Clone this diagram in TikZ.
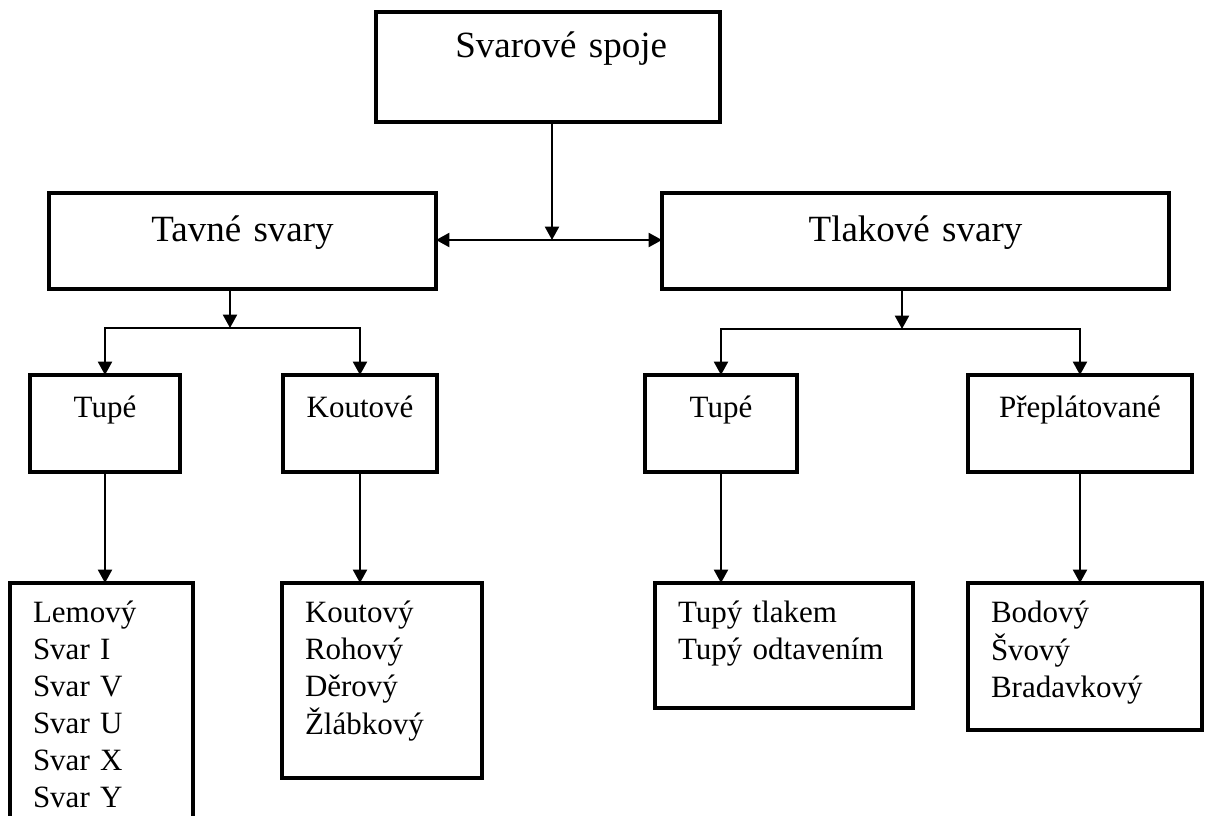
\documentclass[tikz,border=0pt]{standalone}
\usepackage{fontspec}
\setmainfont{Liberation Serif}
\usetikzlibrary{arrows.meta,calc}

\begin{document}
\begin{tikzpicture}[x=0.75pt, y=-0.75pt,
  >={Triangle[length=10pt,width=10.5pt]},
  box/.style={draw, line width=2.6pt, anchor=north west, inner sep=0pt, outer sep=0pt, align=center},
  big/.style={font=\fontsize{27.75}{33}\selectfont, text height=36.75pt, text depth=35.25pt},
  mid/.style={font=\fontsize{23.25}{27.75}\selectfont, text height=32.25pt, text depth=40.5pt},
  list/.style={box, align=left, inner xsep=17.25pt, text height=30pt, font=\fontsize{23.25}{27.75}\selectfont},
  arr/.style={line width=1.5pt, ->}]
\useasboundingbox (0,0) rectangle (1208,816);
\clip (0,0) rectangle (1208,816);
% top box
\node[box, align=right, inner xsep=39.75pt, text width=178.5pt, font=\fontsize{27.75}{33}\selectfont,
  text height=34.5pt, text depth=48pt] (spoje) at (376,12) {Svarové spoje};
% first level
\node[box, big, text width=290.25pt] (tavne) at (49,193) {Tavné svary};
\node[box, big, text width=380.25pt] (tlakove) at (662,193) {Tlakové svary};
% second level
\node[box, mid, text width=112.5pt] (tupeA) at (30,375) {Tupé};
\node[box, mid, text width=115.5pt] (koutove) at (283,375) {Koutové};
\node[box, mid, text width=114pt] (tupeB) at (645,375) {Tupé};
\node[box, mid, text width=168pt] (preplat) at (968,375) {Přeplátované};
% lists
\node[list, text width=102.75pt, text depth=162.75pt] (listA) at (10,583)
  {\noindent\begin{tabular}[t]{@{}l@{}}Lemový\\Svar I\\Svar V\\Svar U\\Svar X\\Svar Y\end{tabular}};
\node[list, text width=115.5pt, text depth=116.25pt] (listB) at (282,583)
  {\noindent\begin{tabular}[t]{@{}l@{}}Koutový\\Rohový\\Děrový\\Žlábkový\end{tabular}};
\node[list, text width=159pt, text depth=63.75pt] (listC) at (655,583)
  {\noindent\begin{tabular}[t]{@{}l@{}}Tupý tlakem\\Tupý odtavením\end{tabular}};
\node[list, text width=141pt, text depth=80.25pt] (listD) at (968,583)
  {\noindent\begin{tabular}[t]{@{}l@{}}Bodový\\Švový\\Bradavkový\end{tabular}};
% connectors
\coordinate (j0) at (552,240);
\coordinate (jA) at (230,328);
\coordinate (jB) at (902,329);
\draw[arr] (j0 |- spoje.south) -- (j0);
\draw[line width=1.5pt, <->] (tavne.east |- j0) -- (tlakove.west |- j0);
\draw[arr] (jA |- tavne.south) -- (jA);
\draw[arr] (jA) -| (tupeA.north);
\draw[arr] (jA) -| (koutove.north);
\draw[arr] (jB |- tlakove.south) -- (jB);
\draw[arr] (jB) -| (tupeB.north);
\draw[arr] (jB) -| (preplat.north);
\draw[arr] (tupeA.south) -- (tupeA.south |- listA.north);
\draw[arr] (koutove.south) -- (koutove.south |- listB.north);
\draw[arr] (tupeB.south) -- (tupeB.south |- listC.north);
\draw[arr] (preplat.south) -- (preplat.south |- listD.north);
\end{tikzpicture}
\end{document}
